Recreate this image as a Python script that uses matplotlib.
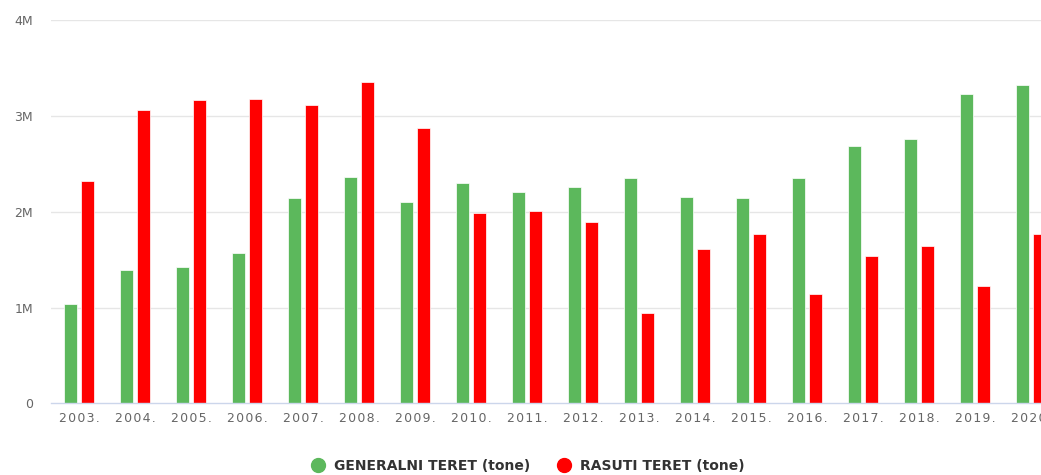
import matplotlib
matplotlib.use("Agg")
import matplotlib.pyplot as plt
import numpy as np
from matplotlib.lines import Line2D

years = ["2003.", "2004.", "2005.", "2006.", "2007.", "2008.", "2009.", "2010.", "2011.",
         "2012.", "2013.", "2014.", "2015.", "2016.", "2017.", "2018.", "2019.", "2020."]
generalni = [1.04, 1.39, 1.42, 1.57, 2.14, 2.36, 2.10, 2.30, 2.21,
             2.26, 2.35, 2.15, 2.14, 2.35, 2.69, 2.76, 3.23, 3.32]
rasuti = [2.32, 3.06, 3.17, 3.18, 3.12, 3.36, 2.87, 1.99, 2.01,
          1.89, 0.94, 1.61, 1.77, 1.14, 1.54, 1.64, 1.23, 1.77]
series_names = ["GENERALNI TERET (tone)", "RASUTI TERET (tone)"]
colors = ["#5cb85c", "#ff0000"]
yticks = [0, 1, 2, 3, 4]
ytick_labels = ["0", "1M", "2M", "3M", "4M"]

W, H = 1041, 475
fig = plt.figure(figsize=(W / 100, H / 100), dpi=100)
left = 51 / W
right = 1059 / W
bottom = (H - 403.3) / H
top = (H - 20.3) / H
ax = fig.add_axes([left, bottom, right - left, top - bottom])

x = np.arange(len(years))
bw = 13 / 56
gap = 4 / 56
ax.bar(x - (bw + gap) / 2, generalni, width=bw, color=colors[0], edgecolor="white", linewidth=0.5, zorder=3)
ax.bar(x + (bw + gap) / 2, rasuti, width=bw, color=colors[1], edgecolor="white", linewidth=0.5, zorder=3)

ax.set_xlim(-0.5, len(years) - 0.5)
ax.set_ylim(0, 4)
ax.set_yticks(yticks)
ax.set_yticklabels(ytick_labels)
ax.set_xticks(x)
ax.set_xticklabels(["\u200a".join(y) for y in years])
ax.tick_params(axis="both", length=0, colors="#666666", labelsize=9)
ax.tick_params(axis="y", pad=13)
ax.tick_params(axis="x", pad=6)
for y in yticks[1:]:
    ax.axhline(y, color="#e6e6e6", linewidth=1, zorder=1)
for s in ["top", "right", "left"]:
    ax.spines[s].set_visible(False)
ax.spines["bottom"].set_color("#ccd6eb")
ax.spines["bottom"].set_linewidth(1)
ax.spines["bottom"].set_zorder(4)

handles = [Line2D([0], [0], marker="o", color="none", markerfacecolor=c, markeredgecolor=c,
                  markersize=10) for c in colors]
fig.legend(handles, series_names, loc="center", bbox_to_anchor=(528 / W, (H - 466) / H),
           ncol=2, frameon=False, prop={"weight": "bold", "size": 10},
           labelcolor="#333333", handletextpad=0.65, columnspacing=1.9, handlelength=1.0)

fig.savefig("out.png", dpi=100)
